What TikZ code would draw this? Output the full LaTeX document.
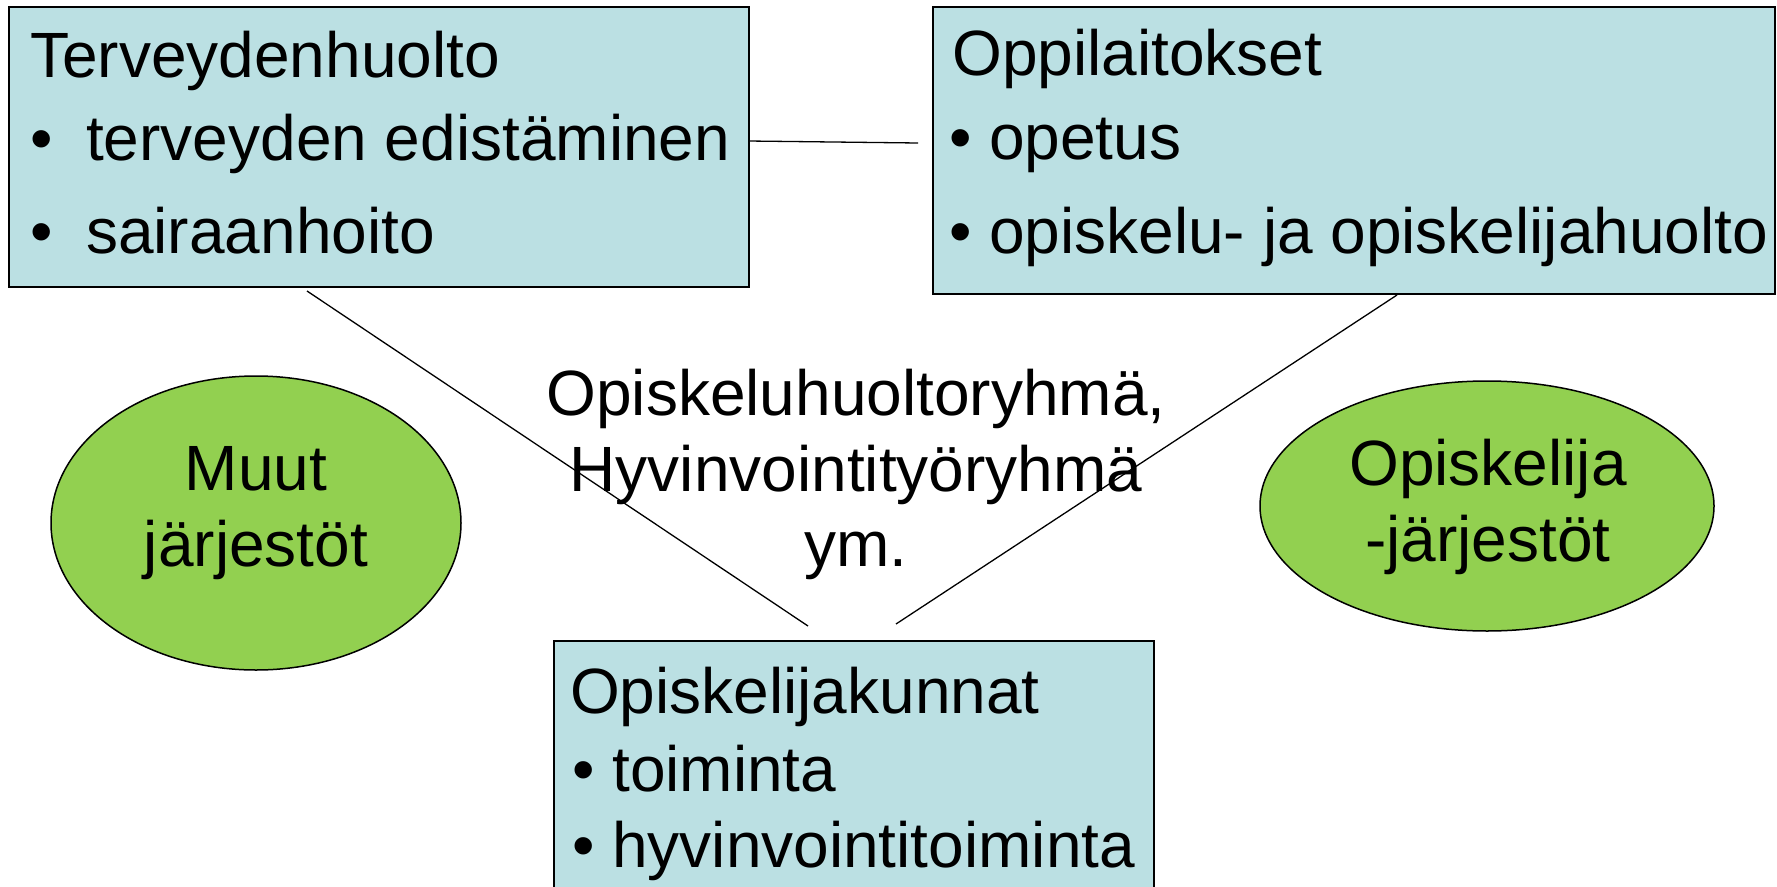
\documentclass[tikz,border=0pt]{standalone}
\usepackage{fontspec}
\setmainfont{Liberation Sans}
\usetikzlibrary{shapes.geometric}
\definecolor{boxblue}{HTML}{BBE0E3}
\definecolor{ovalgreen}{HTML}{92D050}
\newcommand{\dgfont}{\fontsize{64}{76}\selectfont}
\begin{document}
\begin{tikzpicture}[x=1pt,y=-1pt,
  box/.style={draw=black, line width=1.8pt, fill=boxblue, anchor=north west, inner sep=0pt},
  oval/.style={ellipse, draw=black, line width=1.5pt, fill=ovalgreen, inner sep=0pt},
  txt/.style={anchor=base west, inner sep=0pt, font=\dgfont},
  ctxt/.style={anchor=base, inner sep=0pt, font=\dgfont},
  link/.style={draw=black, line width=1.3pt}]
\useasboundingbox[fill=white] (0,0) rectangle (1777,886);

% boxes
\node[box, minimum width=740pt, minimum height=280pt] (terv) at (8,6) {};
\node[box, minimum width=842pt, minimum height=287pt] (oppi) at (932,6) {};
\node[box, minimum width=600pt, minimum height=260pt] (kunn) at (553,640) {};

% box texts
\node[txt] (tervT) at (30,77) {Terveydenhuolto};
\node[txt] (tervB1) at (30,160) {•};
\node[txt] (terv1) at (86,160) {terveyden edistäminen};
\node[txt] (tervB2) at (30,253) {•};
\node[txt] (terv2) at (86,253) {sairaanhoito};

\node[txt] (oppiT) at (952,75) {Oppilaitokset};
\node[txt] (oppiB1) at (949,159) {•};
\node[txt] (oppi1) at (989,159) {opetus};
\node[txt] (oppiB2) at (949,253) {•};
\node[txt] (oppi2) at (989,253) {opiskelu- ja opiskelijahuolto};

\node[txt] (kunnT) at (570,713) {Opiskelijakunnat};
\node[txt] (kunnB1) at (572,791) {•};
\node[txt] (kunn1) at (612,791) {toiminta};
\node[txt] (kunnB2) at (572,867) {•};
\node[txt] (kunn2) at (612,867) {hyvinvointitoiminta};

% ovals
\node[oval, minimum width=410pt, minimum height=294pt] (muut) at (256,523) {};
\node[ctxt] (muut1) at (256,490) {Muut};
\node[ctxt] (muut2) at (256,566) {järjestöt};
\node[oval, minimum width=454pt, minimum height=250pt] (ojar) at (1487,506) {};
\node[ctxt] (ojar1) at (1488,485) {Opiskelija};
\node[ctxt] (ojar2) at (1488,561) {-järjestöt};

% connectors
\coordinate (c1a) at (748,141);
\coordinate (c1b) at (918,143);
\coordinate (c2a) at (307,291);
\coordinate (c2b) at (808,626);
\coordinate (c3a) at (1397,295);
\coordinate (c3b) at (896,624);
\draw[link] (c1a) -- (c1b);
\draw[link] (c2a) -- (c2b);
\draw[link] (c3a) -- (c3b);

% centre text
\node[ctxt] (grp1) at (856,415) {Opiskeluhuoltoryhmä,};
\node[ctxt] (grp2) at (856,491) {Hyvinvointityöryhmä};
\node[ctxt] (grp3) at (856,566) {ym.};
\end{tikzpicture}
\end{document}
